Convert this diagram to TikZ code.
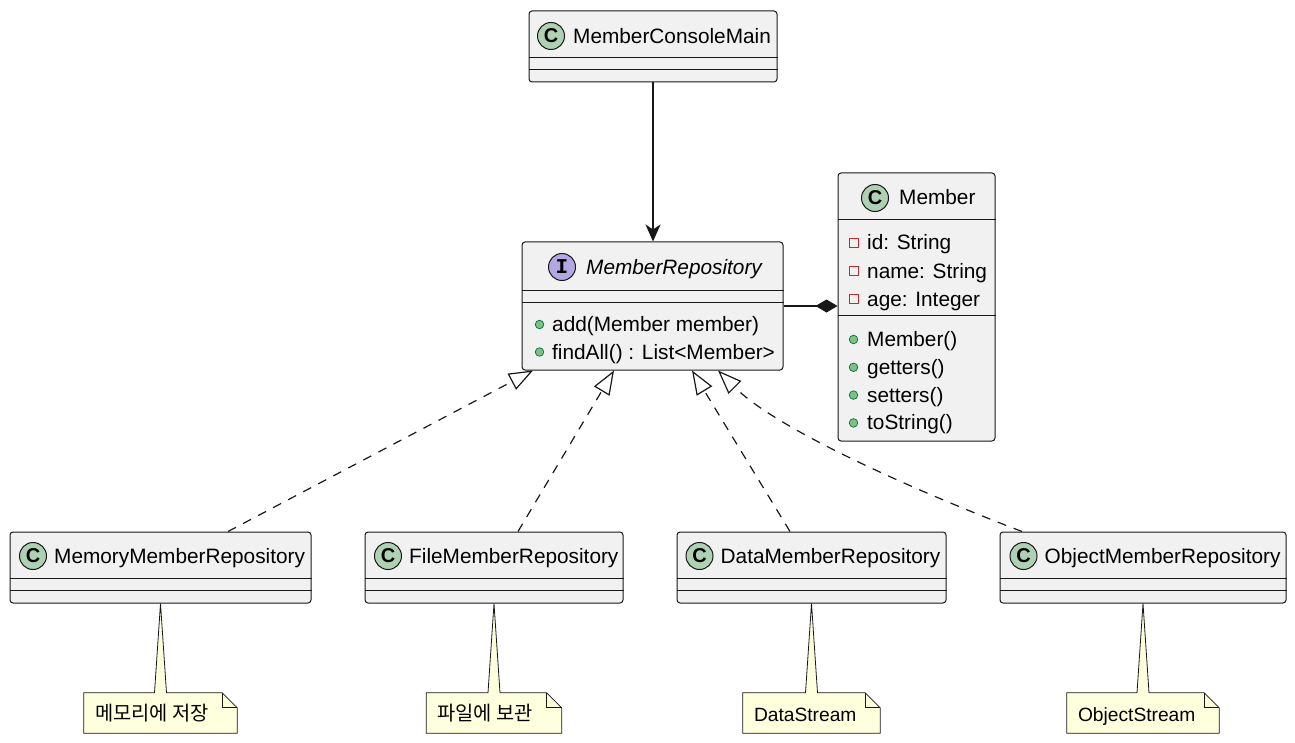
\documentclass[tikz,border=0pt]{standalone}
\usepackage{fontspec}
\setmainfont{Liberation Sans}
\newfontfamily\krfont{Noto Sans CJK KR}
\newfontfamily\iconmono{Liberation Mono}
\usetikzlibrary{arrows.meta,backgrounds}

\definecolor{ink}{HTML}{181818}
\definecolor{boxfill}{HTML}{F1F1F1}
\definecolor{classicon}{HTML}{ADD1B2}
\definecolor{ifaceicon}{HTML}{B4A7E5}
\definecolor{notefill}{HTML}{FEFFDD}
\definecolor{privred}{HTML}{C82930}
\definecolor{pubfill}{HTML}{84BE84}
\definecolor{publine}{HTML}{038048}

\begin{document}
\begin{tikzpicture}[x=1pt,y=-1pt,
  classbox/.style={draw=ink, fill=boxfill, rounded corners=3pt, line width=1pt, inner sep=0pt},
  sepline/.style={draw=ink, line width=1pt},
  cicon/.style={circle, draw=ink, fill=classicon, line width=1pt, inner sep=0pt, minimum size=27pt,
    font=\fontsize{20}{20}\selectfont\bfseries},
  iicon/.style={circle, draw=ink, fill=ifaceicon, line width=1pt, inner sep=0pt, minimum size=27pt,
    font=\iconmono\fontsize{21}{21}\selectfont\bfseries},
  title/.style={anchor=base west, inner sep=0pt, font=\fontsize{20.8}{24}\selectfont},
  member/.style={anchor=base west, inner sep=0pt, font=\fontsize{20.8}{24}\selectfont},
  pub/.style={circle, draw=publine, fill=pubfill, line width=0.8pt, inner sep=0pt, minimum size=8.5pt},
  priv/.style={rectangle, draw=privred, line width=0.9pt, inner sep=0pt, minimum size=9pt},
  notebox/.style={inner sep=0pt, minimum height=40pt},
  notetext/.style={anchor=base west, inner sep=0pt, font=\fontsize{19.2}{22}\selectfont},
  krtext/.style={anchor=base west, inner sep=0pt, font=\krfont\fontsize{19.8}{22}\selectfont},
  noteshape/.style={draw=ink, fill=notefill, line width=0.8pt},
  conn/.style={draw=ink, line width=1.2pt},
  realize/.style={conn, dash pattern=on 9pt off 8pt, -{Triangle[length=24pt, width=18pt, fill=white, line width=1.2pt]}},
]
\useasboundingbox (0,0) rectangle (1295,743);

% ---------- MemberConsoleMain ----------
\node[classbox, minimum width=248pt, minimum height=71pt] (main) at (653,46.5) {};
\draw[sepline] ([yshift=-47.5pt]main.north west) -- ([yshift=-47.5pt]main.north east);
\draw[sepline] ([yshift=-59.5pt]main.north west) -- ([yshift=-59.5pt]main.north east);
\node[cicon] (mainC) at (551,36) {C};
\node[title] (mainT) at (573,43.5) {MemberConsoleMain};

% ---------- MemberRepository (interface) ----------
\node[classbox, minimum width=261pt, minimum height=128pt] (repo) at (652.5,306) {};
\draw[sepline] ([yshift=-48.5pt]repo.north west) -- ([yshift=-48.5pt]repo.north east);
\draw[sepline] ([yshift=-60.5pt]repo.north west) -- ([yshift=-60.5pt]repo.north east);
\node[iicon] (repoI) at (562,267) {I};
\node[title, font=\fontsize{20.8}{24}\selectfont\itshape] (repoT) at (586,274.5) {MemberRepository};
\node[pub] (repoP1) at (539.5,324.5) {};
\node[member] (repoM1) at (552,331.5) {add(Member member)};
\node[pub] (repoP2) at (539.5,352) {};
\node[member] (repoM2) at (552,359) {findAll() : List<Member>};

% ---------- Member ----------
\node[classbox, minimum width=157pt, minimum height=268pt] (memberC) at (916.5,307) {};
\draw[sepline] ([yshift=-47.5pt]memberC.north west) -- ([yshift=-47.5pt]memberC.north east);
\draw[sepline] ([yshift=-143pt]memberC.north west) -- ([yshift=-143pt]memberC.north east);
\node[cicon] (memberI) at (875,198) {C};
\node[title] (memberT) at (899,205) {Member};
\node[priv] (fq1) at (853.5,243) {};
\node[member] (f1) at (867,250) {id: String};
\node[priv] (fq2) at (853.5,271) {};
\node[member] (f2) at (867,278) {name: String};
\node[priv] (fq3) at (853.5,299) {};
\node[member] (f3) at (867,306) {age: Integer};
\node[pub] (mp1) at (853.5,339.5) {};
\node[member] (m1) at (867,346.5) {Member()};
\node[pub] (mp2) at (853.5,367.3) {};
\node[member] (m2) at (867,374.3) {getters()};
\node[pub] (mp3) at (853.5,395.1) {};
\node[member] (m3) at (867,402.1) {setters()};
\node[pub] (mp4) at (853.5,422.9) {};
\node[member] (m4) at (867,429.9) {toString()};

% ---------- implementations ----------
\node[classbox, minimum width=301pt, minimum height=71pt] (mem) at (160.5,567.5) {};
\node[classbox, minimum width=258pt, minimum height=71pt] (file) at (494,567.5) {};
\node[classbox, minimum width=269pt, minimum height=71pt] (data) at (811.5,567.5) {};
\node[classbox, minimum width=286pt, minimum height=71pt] (obj) at (1143,567.5) {};
\foreach \b in {mem,file,data,obj}{
  \draw[sepline] ([yshift=-47.3pt]\b.north west) -- ([yshift=-47.3pt]\b.north east);
  \draw[sepline] ([yshift=-59.3pt]\b.north west) -- ([yshift=-59.3pt]\b.north east);
}
\node[cicon] (memI) at (33,556) {C};
\node[title] (memT) at (54,563.5) {MemoryMemberRepository};
\node[cicon] (fileI) at (388,556) {C};
\node[title] (fileT) at (409,563.5) {FileMemberRepository};
\node[cicon] (dataI) at (699.5,556) {C};
\node[title] (dataT) at (720.5,563.5) {DataMemberRepository};
\node[cicon] (objI) at (1023.5,556) {C};
\node[title] (objT) at (1044.5,563.5) {ObjectMemberRepository};

% ---------- notes ----------
\node[notebox, minimum width=153pt] (memN) at (160.5,713) {};
\node[notebox, minimum width=135pt] (fileN) at (494,713) {};
\node[notebox, minimum width=137pt] (dataN) at (811.5,713) {};
\node[notebox, minimum width=152pt] (objN) at (1143,713) {};

\begin{scope}[on background layer]
\foreach \n/\b in {memN/mem,fileN/file,dataN/data,objN/obj}{
  \draw[noteshape] (\n.north west) -- ([xshift=-6pt]\n.north) -- (\b.south) -- ([xshift=6pt]\n.north)
    -- ([xshift=-15pt]\n.north east) -- ([yshift=-15pt]\n.north east) -- (\n.south east)
    -- (\n.south west) -- cycle;
  \draw[draw=ink, line width=0.8pt] ([xshift=-15pt]\n.north east) |- ([yshift=-15pt]\n.north east);
}
\end{scope}

\node[krtext] (memNT) at ([xshift=11pt,yshift=-7.5pt]memN.west) {메모리에 저장};
\node[krtext] (fileNT) at ([xshift=11pt,yshift=-7.5pt]fileN.west) {파일에 보관};
\node[notetext] (dataNT) at ([xshift=11pt,yshift=-8.7pt]dataN.west) {DataStream};
\node[notetext] (objNT) at ([xshift=11pt,yshift=-8.7pt]objN.west) {ObjectStream};

% ---------- connectors ----------
\draw[conn, -{Stealth[length=17pt, width=15pt, inset=5pt]}] (main.south) -- (main.south |- repo.north);
\draw[conn, -{Diamond[length=22pt, width=13pt]}] (repo.east) -- (repo.east -| memberC.west);

\draw[realize] ([xshift=67.5pt]mem.north) -- ([xshift=-119.5pt]repo.south);
\draw[realize] ([xshift=24pt]file.north) -- ([xshift=-38.5pt]repo.south);
\draw[realize] ([xshift=-21.5pt]data.north) -- ([xshift=39.5pt]repo.south);
\draw[realize] ([xshift=-121pt]obj.north) .. controls +(-100,-38) and +(60,60) .. ([xshift=65.5pt]repo.south);
\end{tikzpicture}
\end{document}
